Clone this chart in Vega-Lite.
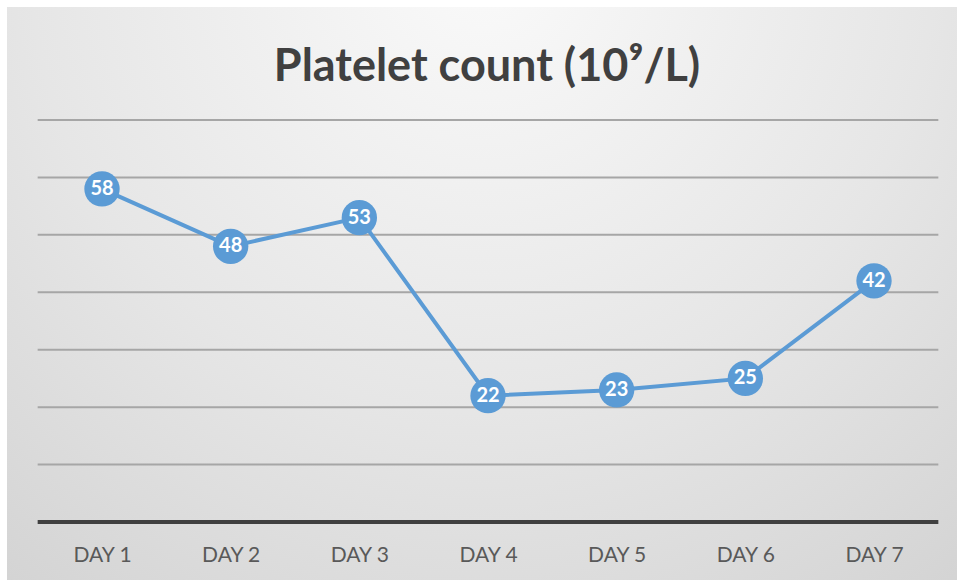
{
  "$schema": "https://vega.github.io/schema/vega-lite/v6.json",
  "width": 950,
  "height": 573,
  "autosize": {"type": "none"},
  "padding": {"left": 7, "top": 7, "right": 0, "bottom": 0},
  "background": "#ffffff",
  "config": {"view": {"stroke": null}, "font": "Lato"},
  "title": {
    "text": "Platelet count (10⁹/L)",
    "font": "Lato",
    "fontSize": 45,
    "fontWeight": "bold",
    "color": "#404040",
    "anchor": "middle",
    "frame": "group",
    "baseline": "alphabetic",
    "offset": -70,
    "dy": 49,
    "dx": 5,
    "zindex": 2
  },
  "datasets": {
    "points": [
      {"day": "DAY 1", "d": 1, "count": 58},
      {"day": "DAY 2", "d": 2, "count": 48},
      {"day": "DAY 3", "d": 3, "count": 53},
      {"day": "DAY 4", "d": 4, "count": 22},
      {"day": "DAY 5", "d": 5, "count": 23},
      {"day": "DAY 6", "d": 6, "count": 25},
      {"day": "DAY 7", "d": 7, "count": 42}
    ],
    "grid": [
      {"g": 10}, {"g": 20}, {"g": 30}, {"g": 40}, {"g": 50}, {"g": 60}, {"g": 70}
    ]
  },
  "layer": [
    {
      "data": {"values": [{}]},
      "mark": {
        "type": "rect",
        "fill": {
          "gradient": "radial",
          "x1": 0.5, "y1": 0.15, "r1": 0,
          "x2": 0.5, "y2": 0.15, "r2": 0.95,
          "stops": [
            {"offset": 0, "color": "#fafafa"},
            {"offset": 0.5, "color": "#e6e6e6"},
            {"offset": 1, "color": "#cdcdcd"}
          ]
        }
      },
      "encoding": {}
    },
    {
      "data": {"name": "grid"},
      "mark": {"type": "rule", "color": "#a6a6a6", "strokeWidth": 2},
      "encoding": {
        "y": {"field": "g", "type": "quantitative", "scale": {"domain": [-10.1, 89.68], "nice": false, "zero": false}, "axis": null},
        "x": {"datum": 0.5, "type": "quantitative", "scale": {"domain": [0.2617, 7.645], "nice": false, "zero": false}},
        "x2": {"datum": 7.5}
      }
    },
    {
      "data": {"values": [{"z": 0}]},
      "mark": {"type": "rule", "color": "#404040", "strokeWidth": 4},
      "encoding": {
        "y": {"field": "z", "type": "quantitative"},
        "x": {"datum": 0.5, "type": "quantitative"},
        "x2": {"datum": 7.5}
      }
    },
    {
      "data": {"name": "points"},
      "mark": {"type": "line", "color": "#5b9bd5", "strokeWidth": 4},
      "encoding": {
        "x": {
          "field": "d",
          "type": "quantitative",
          "axis": {
            "values": [1, 2, 3, 4, 5, 6, 7],
            "labelExpr": "'DAY ' + datum.value",
            "domain": false,
            "ticks": false,
            "grid": false,
            "title": null,
            "offset": -58,
            "labelPadding": 22,
            "labelFont": "Lato",
            "labelFontSize": 21,
            "labelColor": "#595959",
            "zindex": 1
          }
        },
        "y": {"field": "count", "type": "quantitative"}
      }
    },
    {
      "data": {"name": "points"},
      "mark": {"type": "point", "shape": "circle", "filled": true, "color": "#5b9bd5", "size": 1250, "opacity": 1},
      "encoding": {
        "x": {"field": "d", "type": "quantitative"},
        "y": {"field": "count", "type": "quantitative"}
      }
    },
    {
      "data": {"name": "points"},
      "mark": {"type": "text", "color": "#ffffff", "font": "Lato", "fontWeight": "bold", "fontSize": 20, "baseline": "middle", "align": "center"},
      "encoding": {
        "x": {"field": "d", "type": "quantitative"},
        "y": {"field": "count", "type": "quantitative"},
        "text": {"field": "count", "type": "quantitative"}
      }
    }
  ]
}
